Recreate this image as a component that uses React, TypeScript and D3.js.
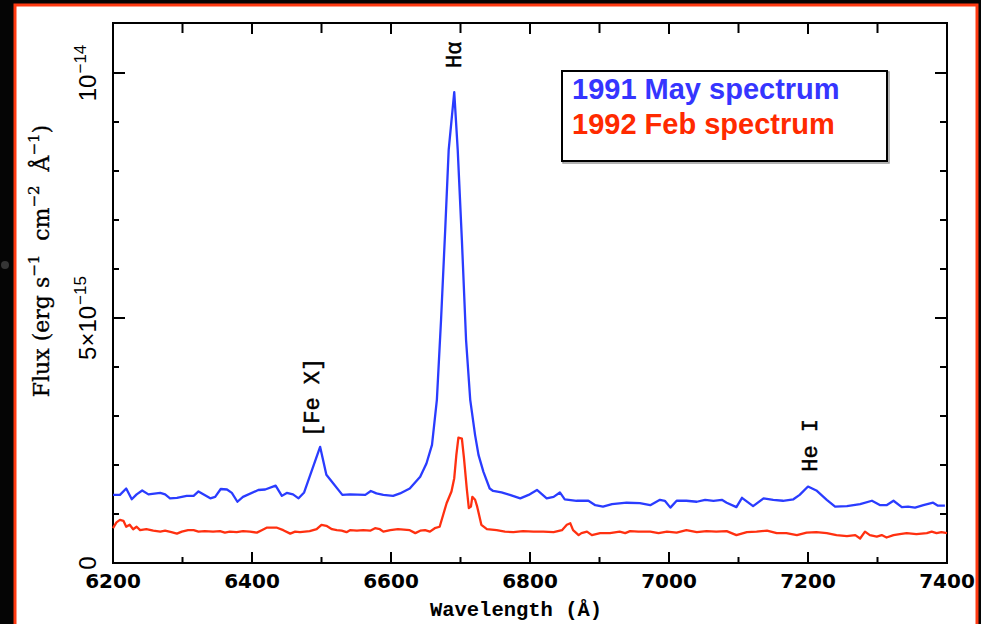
import React from "react";
import * as d3 from "d3";

// 1991 May spectrum (flux in units of 1e-15 erg s-1 cm-2 A-1)
const mayWavelength = [
  6200, 6210, 6219, 6227, 6234, 6242, 6251, 6268, 6275, 6282, 6292, 6306, 6316, 6323, 6340, 6347,
  6355, 6364, 6371, 6379, 6387, 6409, 6419, 6434, 6443, 6450, 6459, 6467, 6475, 6498, 6507, 6515,
  6530, 6541, 6563, 6571, 6579, 6589, 6603, 6613, 6627, 6642, 6651, 6659, 6666, 6672, 6678, 6683,
  6691, 6696, 6702, 6708, 6714, 6721, 6726, 6733, 6742, 6747, 6759, 6771, 6786, 6798, 6810, 6824,
  6834, 6843, 6850, 6867, 6884, 6894, 6905, 6918, 6939, 6958, 6973, 6987, 6994, 7002, 7011, 7025,
  7040, 7052, 7064, 7076, 7083, 7097, 7105, 7121, 7136, 7150, 7164, 7179, 7188, 7200, 7212, 7227,
  7239, 7256, 7275, 7292, 7304, 7313, 7323, 7335, 7344, 7354, 7366, 7380, 7387, 7397,
];
const mayFlux = [
  1.39, 1.39, 1.52, 1.3, 1.4, 1.48, 1.4, 1.43, 1.4, 1.32, 1.33, 1.37, 1.37, 1.46, 1.32, 1.35,
  1.51, 1.5, 1.43, 1.25, 1.35, 1.49, 1.5, 1.58, 1.37, 1.43, 1.4, 1.32, 1.44, 2.37, 1.8, 1.66,
  1.39, 1.4, 1.39, 1.47, 1.42, 1.39, 1.37, 1.42, 1.52, 1.76, 2.03, 2.41, 3.33, 4.96, 6.8, 8.43,
  9.61, 8.43, 6.59, 4.55, 3.33, 2.61, 2.2, 1.86, 1.52, 1.47, 1.44, 1.39, 1.32, 1.39, 1.49, 1.32,
  1.35, 1.44, 1.3, 1.27, 1.27, 1.18, 1.15, 1.2, 1.23, 1.22, 1.18, 1.29, 1.27, 1.13, 1.27, 1.27,
  1.25, 1.29, 1.27, 1.29, 1.23, 1.14, 1.33, 1.16, 1.32, 1.29, 1.27, 1.3, 1.39, 1.56, 1.48, 1.29,
  1.15, 1.16, 1.2, 1.27, 1.18, 1.18, 1.27, 1.14, 1.15, 1.13, 1.18, 1.23, 1.17, 1.17,
];

// 1992 Feb spectrum
const febWavelength = [
  6200, 6205, 6210, 6215, 6219, 6224, 6229, 6234, 6239, 6248, 6258, 6268, 6275, 6284, 6292, 6299,
  6308, 6316, 6323, 6332, 6344, 6354, 6361, 6368, 6378, 6387, 6397, 6407, 6414, 6421, 6436, 6445,
  6455, 6462, 6469, 6483, 6493, 6500, 6507, 6515, 6522, 6529, 6536, 6541, 6551, 6560, 6570, 6577,
  6584, 6589, 6599, 6610, 6627, 6635, 6642, 6649, 6656, 6663, 6670, 6675, 6680, 6687, 6691, 6694,
  6697, 6702, 6705, 6709, 6712, 6715, 6717, 6721, 6724, 6730, 6738, 6752, 6764, 6776, 6790, 6805,
  6819, 6834, 6846, 6853, 6858, 6862, 6870, 6874, 6882, 6889, 6901, 6915, 6929, 6937, 6944, 6956,
  6973, 6985, 6997, 7011, 7025, 7040, 7054, 7068, 7083, 7097, 7112, 7126, 7141, 7155, 7169, 7184,
  7198, 7212, 7227, 7241, 7256, 7268, 7275, 7282, 7289, 7299, 7306, 7313, 7323, 7332, 7342, 7356,
  7371, 7378, 7385, 7392, 7400,
];
const febFlux = [
  0.71, 0.83, 0.88, 0.86, 0.74, 0.78, 0.69, 0.74, 0.67, 0.69, 0.66, 0.64, 0.66, 0.63, 0.6, 0.64,
  0.67, 0.67, 0.64, 0.65, 0.64, 0.65, 0.62, 0.64, 0.63, 0.65, 0.64, 0.62, 0.67, 0.72, 0.72, 0.67,
  0.6, 0.64, 0.63, 0.65, 0.69, 0.78, 0.76, 0.69, 0.67, 0.66, 0.63, 0.67, 0.66, 0.67, 0.66, 0.71,
  0.69, 0.64, 0.67, 0.69, 0.67, 0.61, 0.66, 0.67, 0.64, 0.71, 0.74, 0.98, 1.22, 1.46, 1.73, 2.2,
  2.56, 2.54, 2.14, 1.52, 1.12, 1.15, 1.35, 1.29, 1.15, 0.78, 0.69, 0.67, 0.64, 0.63, 0.65, 0.64,
  0.64, 0.63, 0.67, 0.78, 0.81, 0.67, 0.57, 0.61, 0.64, 0.57, 0.61, 0.61, 0.64, 0.61, 0.65, 0.64,
  0.64, 0.61, 0.64, 0.62, 0.67, 0.63, 0.65, 0.64, 0.65, 0.57, 0.63, 0.64, 0.66, 0.61, 0.61, 0.57,
  0.62, 0.63, 0.61, 0.57, 0.55, 0.57, 0.5, 0.64, 0.57, 0.54, 0.57, 0.52, 0.57, 0.59, 0.61, 0.59,
  0.61, 0.64, 0.61, 0.63, 0.61,
];

const xTickLabels = [6200, 6400, 6600, 6800, 7000, 7200, 7400];
const xMinorTicks = [6300, 6500, 6700, 6900, 7100, 7300];
const yMajorTicks = [0, 5, 10];
const yTickBase = ["0", "5×10", "10"];
const yTickExp = ["", "−15", "−14"];
const yMinorTicks = [1, 2, 3, 4, 6, 7, 8, 9];

const lineNames = ["[Fe X]", "Hα", "He I"];
const lineWavelengths = [6485, 6689, 7201];
const lineLabelFlux = [3.38, 10.37, 2.4];

const legendNames = ["1991 May spectrum", "1992 Feb spectrum"];

const BLUE = "#2a3cff";
const RED = "#ff3010";

const W = 981;
const H = 624;
const plot = { left: 113, right: 947, top: 23, bottom: 563 };

export default function App() {
  const x = d3.scaleLinear().domain([6200, 7400]).range([plot.left, plot.right]);
  const y = d3.scaleLinear().domain([0, 11.02]).range([plot.bottom, plot.top]);

  const line = d3
    .line<[number, number]>()
    .x((d) => x(d[0]))
    .y((d) => y(d[1]));

  const may = mayWavelength.map((w, i) => [w, mayFlux[i]] as [number, number]);
  const feb = febWavelength.map((w, i) => [w, febFlux[i]] as [number, number]);

  const tickFont = "'Liberation Sans', Arial, sans-serif";

  return (
    <svg
      width={W}
      height={H}
      style={{ position: "absolute", left: 0, top: 0, display: "block" }}
    >
      <rect x={0} y={0} width={W} height={H} fill="#050505" />
      <circle cx={5} cy={265} r={4} fill="#555" opacity={0.6} />
      <rect x={15} y={5} width={962} height={650} fill="#fff" stroke="#ff3a12" strokeWidth={3} />

      {/* frame */}
      <rect
        x={plot.left}
        y={plot.top}
        width={plot.right - plot.left}
        height={plot.bottom - plot.top}
        fill="none"
        stroke="#000"
        strokeWidth={2}
      />

      {/* x ticks */}
      {xTickLabels.map((t) => (
        <g key={"xm" + t}>
          <line x1={x(t)} x2={x(t)} y1={plot.bottom} y2={plot.bottom - 11} stroke="#000" strokeWidth={2} />
          <line x1={x(t)} x2={x(t)} y1={plot.top} y2={plot.top + 11} stroke="#000" strokeWidth={2} />
          <text
            x={x(t)}
            y={588}
            textAnchor="middle"
            fontFamily="'DejaVu Sans', sans-serif"
            fontWeight="bold"
            fontSize={20}
            fill="#000"
          >
            {t}
          </text>
        </g>
      ))}
      {xMinorTicks.map((t) => (
        <g key={"xn" + t}>
          <line x1={x(t)} x2={x(t)} y1={plot.bottom} y2={plot.bottom - 6} stroke="#000" strokeWidth={2} />
          <line x1={x(t)} x2={x(t)} y1={plot.top} y2={plot.top + 10} stroke="#000" strokeWidth={2} />
        </g>
      ))}

      {/* y ticks */}
      {yMajorTicks.map((t, i) => (
        <g key={"ym" + t}>
          <line x1={plot.left} x2={plot.left + 12} y1={y(t)} y2={y(t)} stroke="#000" strokeWidth={2} />
          <line x1={plot.right} x2={plot.right - 12} y1={y(t)} y2={y(t)} stroke="#000" strokeWidth={2} />
          <text
            transform={`translate(96,${y(t)}) rotate(-90)`}
            textAnchor="middle"
            fontFamily={tickFont}
            fontSize={24}
            fill="#000"
          >
            {yTickBase[i]}
            {yTickExp[i] && (
              <tspan dy={-10} dx={1} fontSize={17}>
                {yTickExp[i]}
              </tspan>
            )}
          </text>
        </g>
      ))}
      {yMinorTicks.map((t) => (
        <g key={"yn" + t}>
          <line x1={plot.left} x2={plot.left + 6} y1={y(t)} y2={y(t)} stroke="#000" strokeWidth={2} />
          <line x1={plot.right} x2={plot.right - 7} y1={y(t)} y2={y(t)} stroke="#000" strokeWidth={2} />
        </g>
      ))}

      {/* axis titles */}
      <text
        x={516}
        y={616}
        textAnchor="middle"
        fontFamily="'Liberation Mono', monospace"
        fontWeight="bold"
        fontSize={20.5}
        fill="#000"
      >
        Wavelength (Å)
      </text>
      <text
        transform="translate(49,261) rotate(-90)"
        textAnchor="middle"
        fontFamily="'DejaVu Serif', serif"
        fontSize={22}
        fill="#000"
        stroke="#000"
        strokeWidth={0.3}
      >
        Flux (erg s
        <tspan dy={-10} fontSize={15}>−1</tspan>
        <tspan dy={10}>{"\u00a0 cm"}</tspan>
        <tspan dy={-10} fontSize={15}>−2</tspan>
        <tspan dy={10}>{"\u00a0 Å"}</tspan>
        <tspan dy={-10} fontSize={15}>−1</tspan>
        <tspan dy={10}>)</tspan>
      </text>

      {/* spectra */}
      <path d={line(feb) || ""} fill="none" stroke={RED} strokeWidth={2.3} strokeLinejoin="round" />
      <path d={line(may) || ""} fill="none" stroke={BLUE} strokeWidth={2.3} strokeLinejoin="round" />

      {/* line identifications */}
      {lineNames.map((n, i) => (
        <text
          key={n}
          transform={`translate(${x(lineWavelengths[i]) + 8},${y(lineLabelFlux[i])}) rotate(-90)`}
          textAnchor="middle"
          fontFamily="'Liberation Mono', monospace"
          fontSize={22}
          fill="#000"
          stroke="#000"
          strokeWidth={0.5}
        >
          {n}
        </text>
      ))}

      {/* legend */}
      <rect x={563} y={72} width={326} height={91} fill="none" stroke="#999" strokeWidth={1.5} />
      <rect x={562} y={71} width={325} height={90} fill="#fff" stroke="#000" strokeWidth={2} />
      {legendNames.map((n, i) => (
        <text
          key={n}
          x={572}
          y={99 + i * 35}
          fontFamily="'Liberation Sans', Arial, sans-serif"
          fontWeight="bold"
          fontSize={29}
          fill={i === 0 ? "#3535ff" : "#ff2a00"}
        >
          {n}
        </text>
      ))}
    </svg>
  );
}
